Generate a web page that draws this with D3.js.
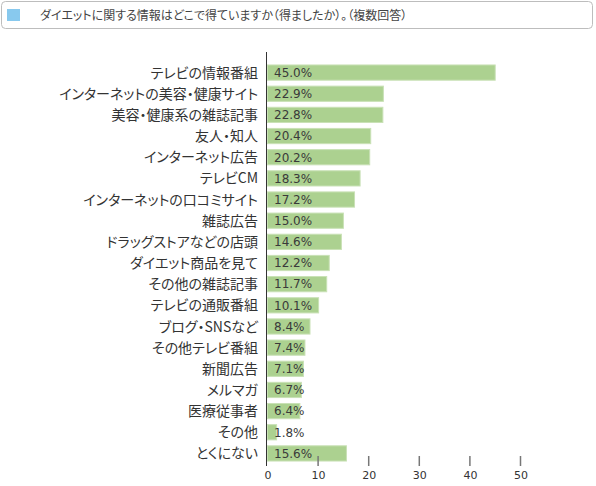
<!DOCTYPE html>
<html>
<head>
<meta charset="utf-8">
<script src="https://cdn.jsdelivr.net/npm/d3@7/dist/d3.min.js"></script>
<style>
  body { margin: 0; background: #fff; }
  text { font-family: "Noto Sans CJK JP", "Noto Sans", sans-serif; font-feature-settings: "palt"; }
</style>
</head>
<body>
<div id="chart"></div>
<script>
// Chart data
var categories = [
  "テレビの情報番組", "インターネットの美容・健康サイト", "美容・健康系の雑誌記事", "友人・知人",
  "インターネット広告", "テレビCM", "インターネットの口コミサイト", "雑誌広告",
  "ドラッグストアなどの店頭", "ダイエット商品を見て", "その他の雑誌記事", "テレビの通販番組",
  "ブログ・SNSなど", "その他テレビ番組", "新聞広告", "メルマガ", "医療従事者", "その他", "とくにない"
];
var values = [45.0, 22.9, 22.8, 20.4, 20.2, 18.3, 17.2, 15.0, 14.6, 12.2, 11.7, 10.1, 8.4, 7.4, 7.1, 6.7, 6.4, 1.8, 15.6];
var ticks = [0, 10, 20, 30, 40, 50];
var legendText = "ダイエットに関する情報はどこで得ていますか（得ましたか）。（複数回答）";

var width = 596, height = 486;
var margins = { top: 62, left: 267, right: 76, bottom: 23 };

var svg = d3.select("#chart").append("svg")
  .attr("width", width)
  .attr("height", height);

// Legend box
svg.append("rect")
  .attr("x", 1.5).attr("y", 1.5)
  .attr("width", 591).attr("height", 27)
  .attr("rx", 4)
  .style("fill", "#fff")
  .style("stroke", "#bdbdbd");

svg.append("rect")
  .attr("x", 7).attr("y", 9)
  .attr("width", 13).attr("height", 12)
  .style("fill", "#88c9ee");

svg.append("text")
  .attr("x", 40).attr("y", 19.5)
  .style("font-size", "12px")
  .style("fill", "#444")
  .text(legendText);

var xScale = d3.scaleLinear().domain([0, 50]).range([0, 253]);
var yScale = d3.scaleBand().domain(categories).range([0, 402]).paddingInner(0.28).paddingOuter(0.14);

var chart = svg.append("g").attr("transform", `translate(${margins.left},${margins.top})`);

// Bars
chart.selectAll("rect.bar")
  .data(values)
  .enter()
  .append("rect")
  .attr("class", "bar")
  .attr("x", 0.5)
  .attr("y", (d, i) => yScale(categories[i]))
  .attr("width", d => xScale(d))
  .attr("height", yScale.bandwidth())
  .style("fill", "#acd190")
  .style("stroke", "#c9e1b6")
  .style("stroke-width", 1);

// Value labels
chart.selectAll("text.value")
  .data(values)
  .enter()
  .append("text")
  .attr("class", "value")
  .attr("x", 7)
  .attr("y", (d, i) => yScale(categories[i]) + yScale.bandwidth() / 2)
  .attr("dy", "0.36em")
  .style("font-family", "'DejaVu Sans', sans-serif")
  .style("font-size", "12px")
  .style("fill", "#3a3a3a")
  .text(d => d.toFixed(1) + "%");

// Category labels
chart.selectAll("text.label")
  .data(categories)
  .enter()
  .append("text")
  .attr("class", "label")
  .attr("x", -9)
  .attr("y", d => yScale(d) + yScale.bandwidth() / 2)
  .attr("dy", "0.36em")
  .style("text-anchor", "end")
  .style("font-size", "14px")
  .style("fill", "#333")
  .text(d => d);

// Axis
var axisY = 402;
var xAxis = d3.axisBottom(xScale).tickValues(ticks).tickSize(0).tickPadding(7);
var axisG = chart.append("g").attr("transform", `translate(0.5,${axisY})`).call(xAxis);
axisG.select(".domain").remove();
axisG.selectAll("text")
  .style("font-family", "'DejaVu Sans', sans-serif")
  .style("font-size", "11px")
  .style("fill", "#333");

chart.selectAll("line.tick-mark")
  .data(ticks.slice(1))
  .enter()
  .append("line")
  .attr("class", "tick-mark")
  .attr("x1", d => xScale(d) + 0.5)
  .attr("x2", d => xScale(d) + 0.5)
  .attr("y1", axisY - 8)
  .attr("y2", axisY + 2)
  .style("stroke", "#777")
  .style("stroke-width", 1.5);

chart.append("line")
  .attr("x1", -0.5).attr("x2", -0.5)
  .attr("y1", -10).attr("y2", axisY + 2)
  .style("stroke", "#333")
  .style("stroke-width", 1);
</script>
</body>
</html>
